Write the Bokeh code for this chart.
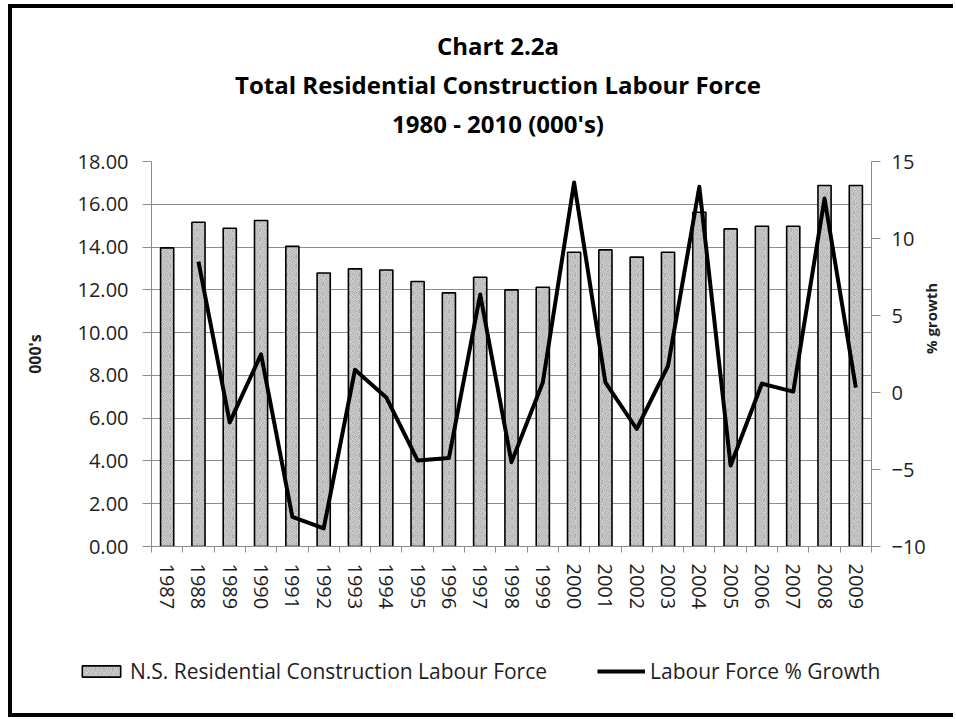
import math
from bokeh.plotting import figure
from bokeh.layouts import column, row
from bokeh.models import (Range1d, LinearAxis, FixedTicker, SingleIntervalTicker,
                          NumeralTickFormatter, Legend, LegendItem, Label)
from bokeh.embed import file_html
from bokeh.resources import INLINE

# ---------------- data ----------------
years = ["1987", "1988", "1989", "1990", "1991", "1992", "1993", "1994", "1995",
         "1996", "1997", "1998", "1999", "2000", "2001", "2002", "2003", "2004",
         "2005", "2006", "2007", "2008", "2009"]
labour_force = [13.96, 15.16, 14.88, 15.24, 14.03, 12.79, 12.98, 12.93, 12.39,
                11.86, 12.59, 12.00, 12.12, 13.76, 13.87, 13.53, 13.76, 15.63,
                14.85, 14.97, 14.97, 16.88, 16.88]
growth_years = years[1:]
growth_pct = [8.5, -1.94, 2.48, -8.08, -8.83, 1.47, -0.32, -4.41, -4.26, 6.36,
              -4.52, 0.65, 13.64, 0.65, -2.37, 1.73, 13.36, -4.74, 0.58, 0.06,
              12.6, 0.32]
title_lines = ["Chart 2.2a", "Total Residential Construction Labour Force",
               "1980 - 2010 (000's)"]
bar_label = "N.S. Residential Construction Labour Force"
line_label = "Labour Force % Growth"

# category positions
pos = {y: i + 1 for i, y in enumerate(years)}
bar_x = [pos[y] for y in years]
line_x = [pos[y] for y in growth_years]

FONT = "Open Sans"
GRID = "#8c8c8c"
TXT = "#1e1e1e"
W = 940
LEFT = 143
BAR_STYLE = dict(fill_color="#d6d6d6", line_color="black", line_width=1.6,
                 hatch_pattern="spiral", hatch_color="#808080", hatch_scale=9,
                 hatch_weight=1, hatch_alpha=0.6)
LINE_STYLE = dict(line_color="black", line_width=4, line_join="round")


def blank(fig):
    fig.border_fill_alpha = 0
    fig.background_fill_alpha = 0
    fig.outline_line_color = None
    fig.min_border = 0
    try:
        fig.frame_align = False
        return True
    except Exception:
        return False


# ---------------- title strip ----------------
top = figure(width=W, height=140, output_backend="svg", toolbar_location=None,
             x_axis_type=None, y_axis_type=None, x_range=Range1d(0, 1),
             y_range=Range1d(0, 1))
top_free = blank(top)
title_x = 489.5 if top_free else 489.5 - LEFT
for txt, yy in zip(title_lines, [99, 60, 21]):
    top.add_layout(Label(x=title_x, y=yy, x_units="screen", y_units="screen",
                         text=txt, text_align="center", text_baseline="alphabetic",
                         text_font=FONT, text_font_style="bold",
                         text_font_size="24px", text_color="black"))

# ---------------- main chart ----------------
p = figure(frame_width=720, frame_height=385, output_backend="svg",
           toolbar_location=None,
           x_range=Range1d(0.5, len(years) + 0.5), y_range=Range1d(0, 18),
           min_border_left=LEFT, min_border_right=77, min_border_top=17,
           min_border_bottom=75, title=None)
p.border_fill_alpha = 0
p.outline_line_color = None
p.extra_y_ranges = {"growth": Range1d(-10, 15)}

bars = p.vbar(x=bar_x, top=labour_force, width=0.42, **BAR_STYLE)
line = p.line(x=line_x, y=growth_pct, y_range_name="growth", **LINE_STYLE)

# x axis
xa = p.xaxis[0]
xa.ticker = FixedTicker(ticks=bar_x, minor_ticks=[i + 0.5 for i in range(len(years) + 1)])
xa.major_label_overrides = {x: y for x, y in zip(bar_x, years)}
xa.major_label_orientation = "vertical"
xa.major_tick_out = 0
xa.major_tick_in = 0
xa.minor_tick_out = 6
xa.minor_tick_in = 0
xa.minor_tick_line_color = GRID
xa.axis_line_color = GRID
xa.major_label_standoff = 11
xa.major_label_text_font = FONT
xa.major_label_text_font_size = "20px"
xa.major_label_text_color = TXT
p.xgrid.visible = False

# left axis
ya = p.yaxis[0]
ya.ticker = SingleIntervalTicker(interval=2)
ya.formatter = NumeralTickFormatter(format="0.00")
ya.axis_label = "000's"
ya.axis_label_text_font = FONT
ya.axis_label_text_font_style = "bold"
ya.axis_label_text_font_size = "16px"
ya.axis_label_text_color = TXT
ya.axis_label_standoff = 29
ya.major_label_text_font = FONT
ya.major_label_text_font_size = "20px"
ya.major_label_text_color = TXT
ya.major_label_standoff = 14
ya.major_tick_out = 9
ya.major_tick_in = 0
ya.minor_tick_line_color = None
ya.axis_line_color = GRID
ya.major_tick_line_color = GRID
p.ygrid.ticker = SingleIntervalTicker(interval=2)
p.ygrid.grid_line_color = GRID
p.ygrid.grid_line_width = 1

# right axis
ra = LinearAxis(y_range_name="growth", ticker=SingleIntervalTicker(interval=5),
                axis_label="% growth")
ra.axis_label_orientation = math.pi / 2
ra.axis_label_text_font = FONT
ra.axis_label_text_font_style = "bold"
ra.axis_label_text_font_size = "15px"
ra.axis_label_text_color = TXT
ra.axis_label_standoff = 2
ra.major_label_text_font = FONT
ra.major_label_text_font_size = "20px"
ra.major_label_text_color = TXT
ra.major_label_standoff = 11
ra.major_tick_out = 9
ra.major_tick_in = 0
ra.minor_tick_line_color = None
ra.axis_line_color = GRID
ra.major_tick_line_color = GRID
p.add_layout(ra, "right")

# ---------------- legend strip ----------------
bot = figure(width=W, height=96, output_backend="svg", toolbar_location=None,
             x_axis_type=None, y_axis_type=None, x_range=Range1d(0, 1),
             y_range=Range1d(0, 1))
blank(bot)
# legend-only proxies, placed outside the strip's visible range
lg_bar = bot.vbar(x=[-10], top=[-5], width=0.42, **BAR_STYLE)
lg_line = bot.line(x=[-10, -9], y=[-5, -5], **LINE_STYLE)
legend = Legend(items=[LegendItem(label=bar_label, renderers=[lg_bar]),
                       LegendItem(label=line_label, renderers=[lg_line])],
                orientation="horizontal", location=(69, 32),
                glyph_width=48, glyph_height=14, label_standoff=5, spacing=50,
                padding=0, margin=0, border_line_color=None,
                background_fill_alpha=0, label_text_font=FONT,
                label_text_font_size="21px", label_text_color=TXT)
bot.add_layout(legend)

page = column(top, p, row(bot, spacing=0), spacing=0)
page.styles = {"margin-left": "8px", "margin-top": "4px",
               "box-shadow": "inset 4px 4px 0 0 #000000, inset 0 -4px 0 0 #000000"}

open("out.html", "w").write(file_html(page, INLINE))
